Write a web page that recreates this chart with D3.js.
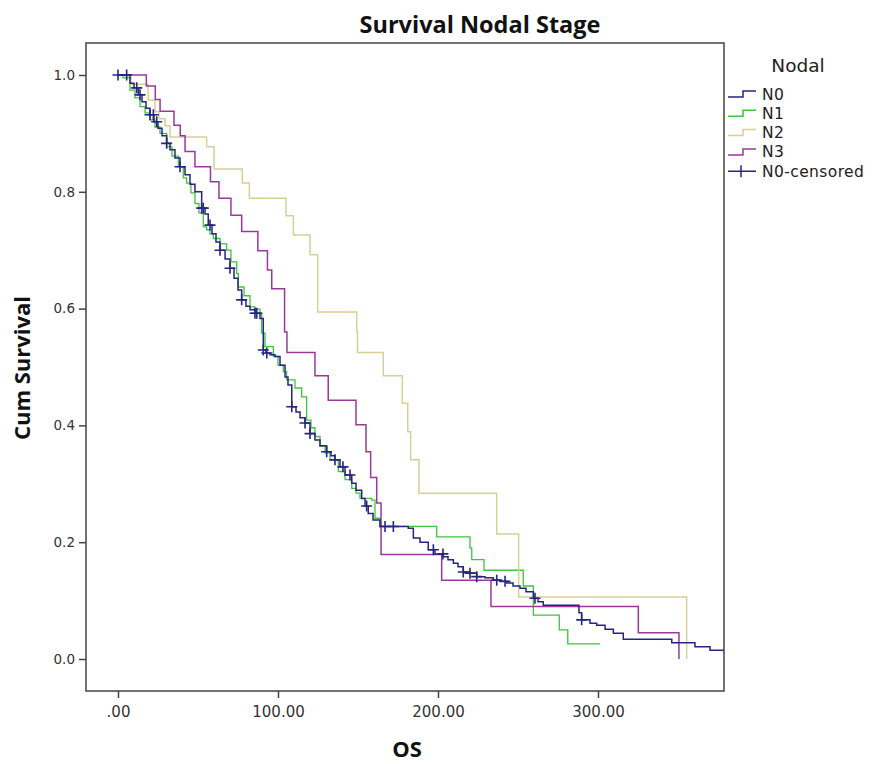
<!DOCTYPE html>
<html>
<head>
<meta charset="utf-8">
<script src="https://cdn.jsdelivr.net/npm/d3@7"></script>
<style>
  html, body { margin: 0; padding: 0; background: #fff; }
  svg { display: block; }
</style>
</head>
<body>
<svg id="chart" width="873" height="764"></svg>
<script>
// ---------------- data ----------------
const groups = ["N0", "N1", "N2", "N3"];
const legendLabels = ["N0", "N1", "N2", "N3", "N0-censored"];
const colors = ["#26267e", "#3fc43f", "#d6d096", "#993a99"];

// event times (OS) and cumulative survival after each step
const n0Time = [7.5, 10, 12.7, 15, 17.5, 20, 22.5, 25, 27.5, 30.4, 32.5, 35.6, 38.75, 41.9, 45, 48.1, 52.3, 54.4, 56.4, 58.75, 61.25, 63.75, 66.9, 70, 72.5, 75, 77.3, 80, 82.5, 85.6, 88.75, 90.8, 92.5, 95, 98.1, 101.25, 104.4, 106.25, 108.6, 111.25, 113.75, 116.9, 120, 123.1, 126.25, 130.4, 133.1, 135.6, 138.75, 141.9, 146.1, 148.75, 152.3, 154.4, 156.4, 159.4, 163.75, 181.4, 184.6, 188.75, 193.9, 198.1, 203.3, 206.25, 209.6, 212.5, 215.8, 220, 224.2, 229.4, 234.6, 238.75, 242.9, 246.9, 251.25, 255, 259.6, 262.5, 265.8, 288.1, 289.8, 295, 299.2, 304.4, 309.6, 315.8, 346.1, 360.6, 370, 380];
const n0Surv = [0.986, 0.978, 0.966, 0.954, 0.943, 0.932, 0.920, 0.909, 0.896, 0.883, 0.872, 0.858, 0.843, 0.829, 0.813, 0.800, 0.772, 0.762, 0.743, 0.728, 0.714, 0.700, 0.685, 0.669, 0.652, 0.632, 0.615, 0.604, 0.598, 0.592, 0.583, 0.529, 0.524, 0.521, 0.518, 0.503, 0.483, 0.469, 0.432, 0.423, 0.413, 0.404, 0.386, 0.375, 0.365, 0.355, 0.348, 0.341, 0.329, 0.315, 0.301, 0.289, 0.275, 0.262, 0.249, 0.238, 0.227, 0.224, 0.207, 0.200, 0.187, 0.180, 0.175, 0.170, 0.164, 0.158, 0.149, 0.147, 0.141, 0.139, 0.135, 0.133, 0.130, 0.125, 0.121, 0.115, 0.104, 0.098, 0.092, 0.079, 0.067, 0.061, 0.058, 0.051, 0.044, 0.034, 0.028, 0.021, 0.015, 0.015];
const n0Censored = [0, 5.4, 11.7, 13.75, 20, 22.1, 24.2, 30.4, 38.75, 52.3, 53.3, 57.5, 63.75, 70, 77.3, 85.6, 86.7, 90.8, 93, 108.6, 116.9, 120, 130.4, 135.6, 140.6, 145, 155.4, 166.9, 172.1, 197.1, 203.1, 215.8, 220, 224.2, 236.7, 241.9, 260.6, 289.8];

const n1Time = [3.1, 7.5, 10.6, 13.75, 16.9, 20, 23.1, 26.25, 30.4, 33.75, 37.7, 40.8, 42.9, 45.6, 48.1, 50.6, 53.3, 55.4, 57.5, 59.6, 63.75, 67.9, 70.6, 74.2, 75.2, 78.75, 82.5, 85.6, 88.75, 89.8, 91.9, 97.1, 100, 103.3, 105.4, 110.6, 114.8, 117.9, 120.6, 123.1, 126.25, 129.4, 132.5, 137.7, 141.9, 146.1, 148.75, 151.25, 158.6, 160.6, 163.75, 199.2, 220, 221.1, 228.75, 253.3, 259.6, 275.8, 281.1, 301.25];
const n1Surv = [0.995, 0.974, 0.961, 0.946, 0.935, 0.923, 0.911, 0.900, 0.877, 0.861, 0.843, 0.824, 0.815, 0.798, 0.780, 0.764, 0.740, 0.735, 0.728, 0.720, 0.711, 0.700, 0.680, 0.660, 0.637, 0.622, 0.603, 0.599, 0.592, 0.558, 0.535, 0.518, 0.503, 0.492, 0.478, 0.464, 0.449, 0.409, 0.396, 0.381, 0.364, 0.353, 0.341, 0.321, 0.307, 0.292, 0.284, 0.275, 0.272, 0.241, 0.227, 0.209, 0.190, 0.170, 0.152, 0.125, 0.075, 0.050, 0.026, 0.026];

const n2Time = [8.1, 18.8, 23.1, 25.6, 29.4, 32.5, 55.4, 60, 77.7, 82.1, 105, 109.6, 120, 124.8, 149.2, 149.7, 165.8, 177.7, 181.1, 182.9, 188.1, 236.7, 250.4, 355.4];
const n2Surv = [0.984, 0.957, 0.937, 0.925, 0.913, 0.894, 0.877, 0.839, 0.815, 0.789, 0.759, 0.726, 0.692, 0.594, 0.560, 0.525, 0.485, 0.438, 0.389, 0.341, 0.284, 0.214, 0.106, 0.0];

const n3Time = [17.7, 23.3, 26.3, 35, 38.9, 41.9, 48.1, 57.8, 63.1, 70.6, 77.3, 87.4, 93.4, 96.1, 104.1, 105.6, 123.1, 131.4, 148.75, 155, 157.9, 161.7, 164.4, 202.3, 233.1, 325.2, 350.6];
const n3Surv = [0.981, 0.958, 0.938, 0.914, 0.896, 0.869, 0.843, 0.817, 0.789, 0.760, 0.732, 0.699, 0.666, 0.634, 0.560, 0.525, 0.485, 0.443, 0.401, 0.355, 0.311, 0.267, 0.179, 0.135, 0.090, 0.045, 0.0];

const xTicks = [0, 100, 200, 300];
const xTickLabels = [".00", "100.00", "200.00", "300.00"];
const yTicks = [0, 0.2, 0.4, 0.6, 0.8, 1.0];
const yTickLabels = ["0.0", "0.2", "0.4", "0.6", "0.8", "1.0"];

// ---------------- layout ----------------
const svg = d3.select("#chart");
const frame = { left: 86, top: 43, right: 724, bottom: 691 };
const x = d3.scaleLinear().domain([-20, 378.75]).range([frame.left, frame.right]);
const y = d3.scaleLinear().domain([-0.0548, 1.0548]).range([frame.bottom, frame.top]);

svg.append("defs").append("clipPath").attr("id", "plotclip")
  .append("rect").attr("x", frame.left).attr("y", frame.top)
  .attr("width", frame.right - frame.left).attr("height", frame.bottom - frame.top);

// title
svg.append("text").attr("x", 480).attr("y", 33).attr("text-anchor", "middle")
  .style("font-family", "'Open Sans', sans-serif").style("font-weight", "bold")
  .style("font-size", "23.5px").attr("fill", "#111").text("Survival Nodal Stage");

// axes
const tickFont = "'DejaVu Sans', sans-serif";
const yAxis = d3.axisLeft(y).tickValues(yTicks).tickSize(7).tickPadding(4)
  .tickFormat((d, i) => yTickLabels[i]);
const gy = svg.append("g").attr("transform", `translate(${frame.left},0)`).call(yAxis);
gy.select(".domain").remove();
gy.selectAll("line").attr("stroke", "#444").attr("stroke-width", 1.5);
gy.selectAll("text").style("font-family", tickFont).style("font-size", "13.5px").attr("fill", "#333");

const xAxis = d3.axisBottom(x).tickValues(xTicks).tickSize(7).tickPadding(8)
  .tickFormat((d, i) => xTickLabels[i]);
const gx = svg.append("g").attr("transform", `translate(0,${frame.bottom})`).call(xAxis);
gx.select(".domain").remove();
gx.selectAll("line").attr("stroke", "#444").attr("stroke-width", 1.5);
gx.selectAll("text").style("font-family", tickFont).style("font-size", "15px").attr("fill", "#333");

// axis titles
svg.append("text").attr("x", 407).attr("y", 757).attr("text-anchor", "middle")
  .style("font-family", "'Open Sans', sans-serif").style("font-weight", "bold")
  .style("font-size", "22px").attr("fill", "#111").text("OS");
svg.append("text").attr("transform", "translate(30,368) rotate(-90)").attr("text-anchor", "middle")
  .style("font-family", "'Open Sans', sans-serif").style("font-weight", "bold")
  .style("font-size", "22px").attr("fill", "#111").text("Cum Survival");

// curves
const series = [
  { t: n0Time, s: n0Surv },
  { t: n1Time, s: n1Surv },
  { t: n2Time, s: n2Surv },
  { t: n3Time, s: n3Surv }
];
const line = d3.line().x(d => x(d[0])).y(d => y(d[1])).curve(d3.curveStepAfter);
const plot = svg.append("g").attr("clip-path", "url(#plotclip)");
const drawOrder = [1, 2, 3, 0];
drawOrder.forEach(i => {
  const pts = [[0, 1]].concat(series[i].t.map((t, k) => [t, series[i].s[k]]));
  plot.append("path").attr("d", line(pts)).attr("fill", "none")
    .attr("stroke", colors[i]).attr("stroke-width", i === 1 ? 1.3 : 1.5);
});

// censored marks for N0
function survAt(ser, t) {
  let v = 1;
  for (let k = 0; k < ser.t.length; k++) { if (ser.t[k] <= t) v = ser.s[k]; else break; }
  return v;
}
const cs = 5.5;
n0Censored.forEach(t => {
  const cx = x(t), cy = y(survAt(series[0], t));
  plot.append("path").attr("d", `M${cx - cs},${cy}H${cx + cs}M${cx},${cy - cs}V${cy + cs}`)
    .attr("stroke", colors[0]).attr("stroke-width", 1.6).attr("fill", "none");
});

// frame
svg.append("rect").attr("x", frame.left).attr("y", frame.top)
  .attr("width", frame.right - frame.left).attr("height", frame.bottom - frame.top)
  .attr("fill", "none").attr("stroke", "#444").attr("stroke-width", 1.5);

// legend
svg.append("text").attr("x", 798).attr("y", 72).attr("text-anchor", "middle")
  .style("font-family", tickFont).style("font-size", "18.5px").attr("fill", "#222").text("Nodal");
const legY0 = 94, legDY = 19.3;
legendLabels.forEach((lab, i) => {
  const cy = legY0 + i * legDY;
  const g = svg.append("g");
  if (i < 4) {
    g.append("path").attr("d", `M728,${cy + 3}H743V${cy - 3}H756`)
      .attr("fill", "none").attr("stroke", colors[i]).attr("stroke-width", 1.5);
  } else {
    g.append("path").attr("d", `M728,${cy}H756M741,${cy - 6}V${cy + 6}`)
      .attr("fill", "none").attr("stroke", colors[0]).attr("stroke-width", 1.5);
  }
  g.append("text").attr("x", 762).attr("y", cy + 5.5)
    .style("font-family", tickFont).style("font-size", "15.5px").style("letter-spacing", "0.4px")
    .attr("fill", "#222").text(lab);
});
</script>
</body>
</html>
